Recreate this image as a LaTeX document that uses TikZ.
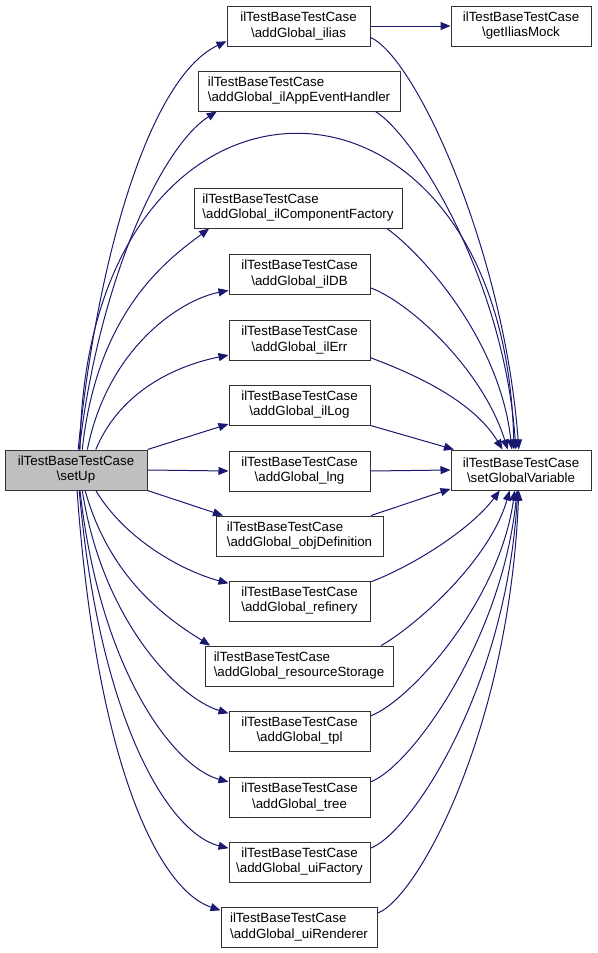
\documentclass[tikz,border=0pt]{standalone}
\usepackage{fontspec}
\setmainfont{Liberation Sans}
\usetikzlibrary{arrows.meta}
\definecolor{edgeblue}{RGB}{25,25,112}
\definecolor{selgray}{RGB}{191,191,191}
\begin{document}
\begin{tikzpicture}[x=0.75pt, y=-0.75pt,
    fn/.style={rectangle, draw=black!80, line width=0.75pt, minimum height=30pt, inner sep=0pt,
        align=center, font=\fontsize{10}{11.3}\selectfont},
    fnl/.style={fn, align=left},
    call/.style={draw=edgeblue, line width=0.75pt, -{Triangle[length=7.5pt,width=6pt]}}]
        \useasboundingbox (0,0) rectangle (597,953);

        % Define functions
        \node[fn, fill=selgray, minimum width=142*0.75pt] (setup) at (76, 470) {ilTestBaseTestCase\\\textbackslash setUp};

        \node[fn, minimum width=143*0.75pt] (ilias) at (298.5, 26) {ilTestBaseTestCase\\\textbackslash addGlobal\_ilias};
        \node[fn, minimum width=140*0.75pt] (mock) at (521, 26) {ilTestBaseTestCase\\\textbackslash getIliasMock};
        \node[fnl, minimum width=202*0.75pt] (appevent) at (299, 91) {ilTestBaseTestCase\\\textbackslash addGlobal\_ilAppEventHandler};
        \node[fnl, minimum width=208*0.75pt] (compfactory) at (298, 208) {ilTestBaseTestCase\\\textbackslash addGlobal\_ilComponentFactory};
        \node[fn, minimum width=141*0.75pt] (ildb) at (299.5, 274) {ilTestBaseTestCase\\\textbackslash addGlobal\_ilDB};
        \node[fn, minimum width=141*0.75pt] (ilerr) at (299.5, 340) {ilTestBaseTestCase\\\textbackslash addGlobal\_ilErr};
        \node[fn, minimum width=141*0.75pt] (illog) at (299.5, 405) {ilTestBaseTestCase\\\textbackslash addGlobal\_ilLog};
        \node[fn, minimum width=141*0.75pt] (lng) at (299.5, 471) {ilTestBaseTestCase\\\textbackslash addGlobal\_lng};
        \node[fnl, minimum width=167*0.75pt] (objdef) at (299.5, 536) {ilTestBaseTestCase\\\textbackslash addGlobal\_objDefinition};
        \node[fn, minimum width=141*0.75pt] (refinery) at (299.5, 601) {ilTestBaseTestCase\\\textbackslash addGlobal\_refinery};
        \node[fnl, minimum width=188*0.75pt] (storage) at (299, 666) {ilTestBaseTestCase\\\textbackslash addGlobal\_resourceStorage};
        \node[fn, minimum width=141*0.75pt] (tpl) at (299.5, 731) {ilTestBaseTestCase\\\textbackslash addGlobal\_tpl};
        \node[fn, minimum width=141*0.75pt] (tree) at (299.5, 797) {ilTestBaseTestCase\\\textbackslash addGlobal\_tree};
        \node[fn, minimum width=141*0.75pt] (uifactory) at (299.5, 862) {ilTestBaseTestCase\\\textbackslash addGlobal\_uiFactory};
        \node[fnl, minimum width=156*0.75pt] (uirenderer) at (299, 927) {ilTestBaseTestCase\\\textbackslash addGlobal\_uiRenderer};

        \node[fn, minimum width=140*0.75pt] (setvar) at (521, 470) {ilTestBaseTestCase\\\textbackslash setGlobalVariable};

        % Draw calls from setUp
        \draw[call] (setup.84) .. controls +(20,-200) and +(-75,35) .. (ilias.192);
        \draw[call] (setup.81) .. controls +(20,-170) and +(-55,35) .. (appevent.194);
        \draw[call] (setup.79) .. controls +(5,-420) and +(-10,-420) .. (setvar.109);
        \draw[call] (setup.73) .. controls +(15,-140) and +(-40,30) .. (compfactory.193);
        \draw[call] (setup.61) .. controls +(20,-100) and +(-50,10) .. (ildb.193);
        \draw[call] (setup.46) .. controls +(25,-60) and +(-50,10) .. (ilerr.192);
        \draw[call] (setup.north east) -- (illog.195);
        \draw[call] (setup.east) -- (lng.west);
        \draw[call] (setup.south east) -- (objdef.165);
        \draw[call] (setup.-46) .. controls +(30,50) and +(-45,-12) .. (refinery.166);
        \draw[call] (setup.-66) .. controls +(25,90) and +(-40,-25) .. (storage.167);
        \draw[call] (setup.-73) .. controls +(20,130) and +(-50,-15) .. (tpl.166);
        \draw[call] (setup.-79) .. controls +(20,180) and +(-55,-15) .. (tree.168);
        \draw[call] (setup.-81) .. controls +(20,230) and +(-60,-15) .. (uifactory.169);
        \draw[call] (setup.-87) .. controls +(20,280) and +(-60,-20) .. (uirenderer.168);

        % Draw calls to setGlobalVariable
        \draw[call] (ilias.east) -- (mock.west);
        \draw[call] (ilias.351) .. controls +(45,20) and +(-15,-200) .. (setvar.96);
        \draw[call] (appevent.345) .. controls +(40,25) and +(-12,-170) .. (setvar.104);
        \draw[call] (compfactory.347) .. controls +(35,25) and +(-12,-110) .. (setvar.114);
        \draw[call] (ildb.349) .. controls +(40,15) and +(-25,-80) .. (setvar.123);
        \draw[call] (ilerr.346) .. controls +(40,15) and +(-30,-50) .. (setvar.132);
        \draw[call] (illog.south east) -- (setvar.163);
        \draw[call] (lng.east) -- (setvar.west);
        \draw[call] (objdef.16) -- (setvar.195);
        \draw[call] (refinery.15) .. controls +(40,-15) and +(-30,40) .. (setvar.224);
        \draw[call] (storage.14) .. controls +(35,-20) and +(-20,70) .. (setvar.241);
        \draw[call] (tpl.12) .. controls +(40,-15) and +(-15,110) .. (setvar.253);
        \draw[call] (tree.12) .. controls +(40,-15) and +(-15,150) .. (setvar.259);
        \draw[call] (uifactory.11) .. controls +(40,-15) and +(-12,200) .. (setvar.261);
        \draw[call] (uirenderer.10) .. controls +(40,-15) and +(-10,240) .. (setvar.264);
    \end{tikzpicture}
\end{document}
